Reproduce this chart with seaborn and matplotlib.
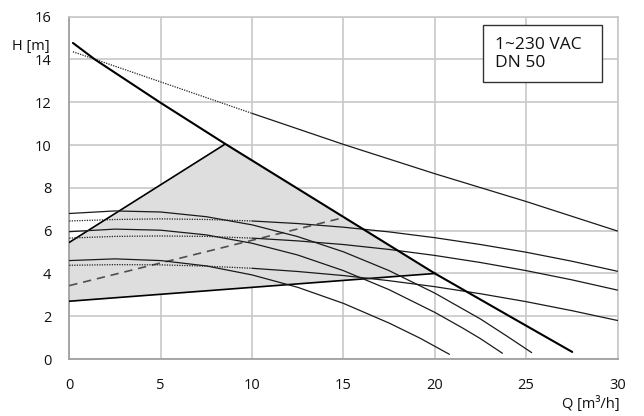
import matplotlib
matplotlib.use("Agg")
import matplotlib.pyplot as plt
import seaborn as sns
from matplotlib.patches import Polygon, Rectangle

# Q [m3/h] / H [m] values
# speed curves that run down to the bottom
q_s1 = [0, 2.5, 5, 7.5, 10, 12.5, 15, 17.5, 20, 22.5, 24, 25.3]
h_s1 = [6.80, 6.92, 6.87, 6.65, 6.27, 5.72, 5.01, 4.13, 3.08, 1.87, 1.04, 0.30]
q_s2 = [0, 2.5, 5, 7.5, 10, 12.5, 15, 17.5, 20, 21.5, 22.5, 23.7]
h_s2 = [5.95, 6.07, 6.02, 5.80, 5.41, 4.86, 4.13, 3.24, 2.18, 1.46, 0.95, 0.27]
q_s3 = [0, 2.5, 5, 7.5, 10, 12.5, 15, 17.5, 19.2, 20.8]
h_s3 = [4.60, 4.68, 4.60, 4.35, 3.93, 3.35, 2.60, 1.68, 0.97, 0.22]

# flat curves, dotted at low flow
q_flat = [0, 2.5, 5, 7.5, 10, 12.5, 15, 17.5, 20, 22.5, 25, 27.5, 30]
h_f1 = [6.45, 6.52, 6.55, 6.52, 6.45, 6.33, 6.16, 5.94, 5.67, 5.35, 4.99, 4.57, 4.10]
h_f2 = [5.65, 5.73, 5.75, 5.73, 5.65, 5.52, 5.35, 5.12, 4.84, 4.51, 4.13, 3.70, 3.22]
h_f3 = [4.38, 4.41, 4.40, 4.34, 4.24, 4.09, 3.90, 3.66, 3.38, 3.05, 2.68, 2.26, 1.80]

# upper thin curve
q_top = [0.2, 5, 10, 15, 20, 25, 30]
h_top = [14.36, 12.95, 11.48, 10.03, 8.66, 7.36, 5.98]

# max curve (thick)
q_max = [0.2, 1.4, 4.95, 8.54, 20, 24.09, 27.52]
h_max = [14.77, 14.0, 12.0, 10.05, 4.0, 2.0, 0.33]

# operating area
q_area = [0, 8.54, 20.05, 0]
h_area = [5.45, 10.05, 4.0, 2.7]

# dashed control line
q_dash = [0, 14.97]
h_dash = [3.43, 6.6]

q_cut = 10  # dotted part ends here

sns.set_style("white")
plt.rcParams['font.family'] = ['Open Sans', 'DejaVu Sans']

fig = plt.figure(figsize=(6.44, 4.16), dpi=100)
ax = fig.add_axes([0.1076, 0.137, 0.8513, 0.823])

# grey operating area
ax.add_patch(Polygon(list(zip(q_area, h_area)), closed=True, facecolor='#dedede',
                     edgecolor='none', zorder=1))
sns.lineplot(x=q_area[:2], y=h_area[:2], ax=ax, color='black', lw=1.2, zorder=3)
sns.lineplot(x=[q_area[3], q_area[2]], y=[h_area[3], h_area[2]], ax=ax, color='black',
             lw=1.2, zorder=3)

sns.lineplot(x=q_dash, y=h_dash, ax=ax, color='#505050', lw=1.2,
             linestyle=(0, (5, 3.5)), zorder=3)

for q, h in [(q_s1, h_s1), (q_s2, h_s2), (q_s3, h_s3)]:
    sns.lineplot(x=q, y=h, ax=ax, color='#1a1a1a', lw=0.9, zorder=4)

dot = (0, (1, 1))
for h in [h_f1, h_f2, h_f3]:
    qd = [v for v in q_flat if v <= q_cut]
    qs = [v for v in q_flat if v >= q_cut]
    sns.lineplot(x=qd, y=h[:len(qd)], ax=ax, color='#222222', lw=0.9,
                 linestyle=dot, zorder=4)
    sns.lineplot(x=qs, y=h[len(qd) - 1:], ax=ax, color='#1a1a1a', lw=0.9, zorder=4)

qd = [v for v in q_top if v <= q_cut]
sns.lineplot(x=qd, y=h_top[:len(qd)], ax=ax, color='#222222', lw=0.9, linestyle=dot, zorder=4)
sns.lineplot(x=q_top[len(qd) - 1:], y=h_top[len(qd) - 1:], ax=ax, color='#1a1a1a',
             lw=0.9, zorder=4)

sns.lineplot(x=q_max, y=h_max, ax=ax, color='black', lw=1.5, zorder=5)

ax.set_xlim(0, 30)
ax.set_ylim(0, 16)
ax.set_xticks(range(0, 31, 5))
ax.set_yticks(range(0, 17, 2))
ax.grid(True, color='#c8c8c8', lw=1.2)
ax.set_axisbelow(True)
for side in ['left', 'bottom']:
    ax.spines[side].set_color('#a0a0a0')
    ax.spines[side].set_linewidth(1.3)
for side in ['top', 'right']:
    ax.spines[side].set_color('#c8c8c8')
    ax.spines[side].set_linewidth(1.2)
ax.tick_params(axis='both', length=5, width=1.2, color='#a0a0a0', labelsize=10.5,
               labelcolor='#111111')
ax.tick_params(axis='y', pad=8)
ax.tick_params(axis='x', pad=9)
ax.set_xlabel('')
ax.set_ylabel('')

ax.text(-2.1, 14.6, 'H [m]', ha='center', va='center', fontsize=10.5, color='#111111')
ax.text(30.1, -1.72, 'Q [m³/h]', ha='right', va='top', fontsize=10.5, color='#111111')

ax.add_patch(Rectangle((22.65, 12.94), 6.49, 2.66, facecolor='white', edgecolor='#333333',
                       lw=1.0, zorder=6))
ax.text(23.3, 14.27, '1~230 VAC\nDN 50', ha='left', va='center', fontsize=12.5,
        linespacing=1.15, color='#111111', zorder=7)

fig.savefig('out.png', dpi=100)
